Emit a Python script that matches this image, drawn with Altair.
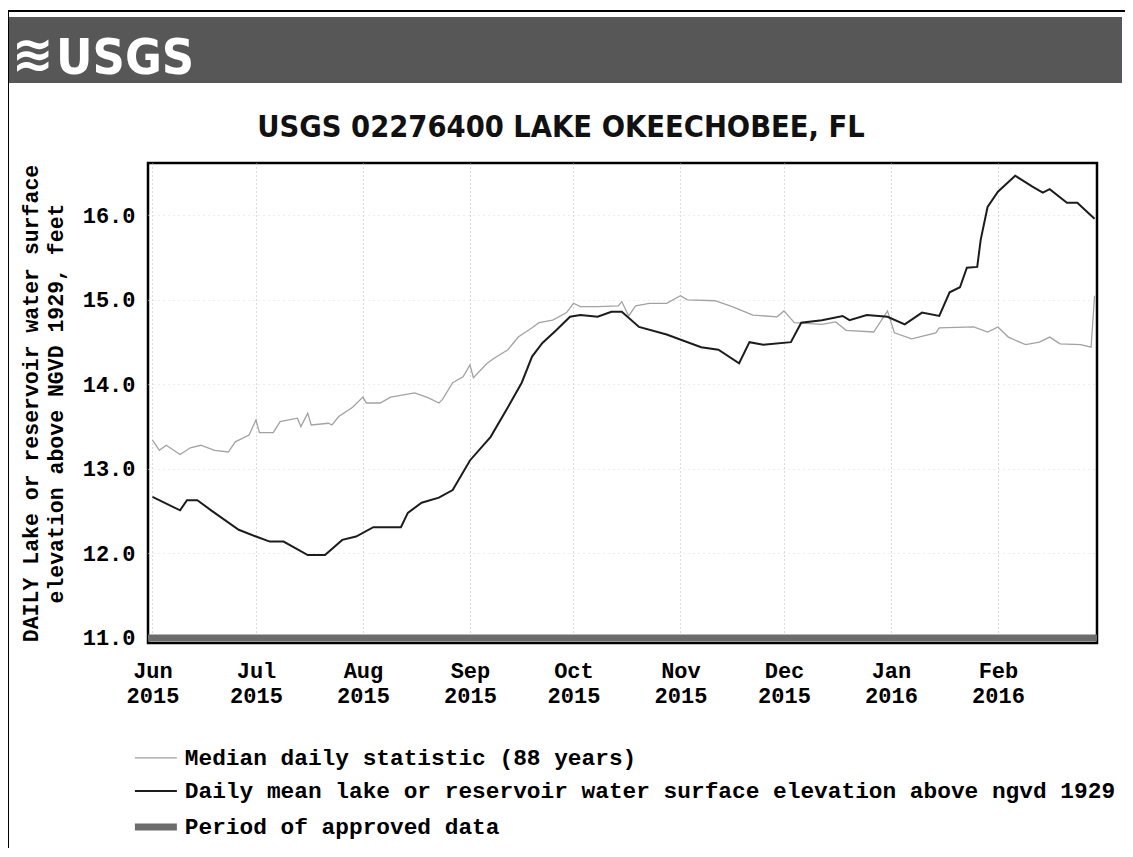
import altair as alt
import pandas as pd

MEDIAN = "Median daily statistic (88 years)"
DAILY = "Daily mean lake or reservoir water surface elevation above ngvd 1929"
APPROVED = "Period of approved data"

median_dates = [
    "2015-06-01", "2015-06-03", "2015-06-05", "2015-06-09", "2015-06-12", "2015-06-15",
    "2015-06-19", "2015-06-23", "2015-06-25", "2015-06-29", "2015-07-01", "2015-07-02",
    "2015-07-06", "2015-07-08", "2015-07-13", "2015-07-14", "2015-07-16", "2015-07-17",
    "2015-07-22", "2015-07-23", "2015-07-25", "2015-07-29", "2015-08-01", "2015-08-02",
    "2015-08-06", "2015-08-09", "2015-08-16", "2015-08-20", "2015-08-23", "2015-08-24",
    "2015-08-27", "2015-08-30", "2015-09-01", "2015-09-02", "2015-09-06", "2015-09-08",
    "2015-09-12", "2015-09-15", "2015-09-19", "2015-09-21", "2015-09-25", "2015-09-29",
    "2015-10-01", "2015-10-03", "2015-10-08", "2015-10-14", "2015-10-15", "2015-10-17",
    "2015-10-19", "2015-10-23", "2015-10-28", "2015-11-01", "2015-11-03", "2015-11-11",
    "2015-11-16", "2015-11-22", "2015-11-29", "2015-12-01", "2015-12-04", "2015-12-12",
    "2015-12-16", "2015-12-19", "2015-12-27", "2015-12-31", "2016-01-02", "2016-01-07",
    "2016-01-14", "2016-01-15", "2016-01-25", "2016-01-29", "2016-02-01", "2016-02-04",
    "2016-02-09", "2016-02-13", "2016-02-16", "2016-02-19", "2016-02-25", "2016-02-28",
    "2016-02-29",
]
median_values = [
    13.34, 13.22, 13.28, 13.17, 13.25, 13.28,
    13.22, 13.20, 13.32, 13.40, 13.58, 13.43,
    13.43, 13.56, 13.60, 13.50, 13.66, 13.52,
    13.54, 13.52, 13.62, 13.73, 13.85, 13.78,
    13.78, 13.85, 13.90, 13.84, 13.78, 13.82,
    14.02, 14.09, 14.23, 14.08, 14.25, 14.31,
    14.41, 14.56, 14.67, 14.73, 14.76, 14.85,
    14.96, 14.92, 14.92, 14.93, 14.98, 14.81,
    14.93, 14.96, 14.96, 15.05, 15.00, 14.99,
    14.92, 14.82, 14.80, 14.87, 14.73, 14.71,
    14.74, 14.64, 14.62, 14.87, 14.61, 14.54,
    14.61, 14.67, 14.68, 14.62, 14.68, 14.56,
    14.47, 14.50, 14.56, 14.48, 14.47, 14.44,
    15.05,
]

mean_dates = [
    "2015-06-01", "2015-06-09", "2015-06-11", "2015-06-14", "2015-06-18", "2015-06-26",
    "2015-07-01", "2015-07-05", "2015-07-09", "2015-07-16", "2015-07-21", "2015-07-26",
    "2015-07-30", "2015-08-04", "2015-08-12", "2015-08-14", "2015-08-18", "2015-08-23",
    "2015-08-27", "2015-09-01", "2015-09-07", "2015-09-12", "2015-09-16", "2015-09-19",
    "2015-09-22", "2015-09-26", "2015-09-30", "2015-10-03", "2015-10-08", "2015-10-12",
    "2015-10-15", "2015-10-20", "2015-10-28", "2015-11-07", "2015-11-12", "2015-11-18",
    "2015-11-21", "2015-11-25", "2015-12-03", "2015-12-06", "2015-12-12", "2015-12-18",
    "2015-12-20", "2015-12-25", "2015-12-31", "2016-01-05", "2016-01-10", "2016-01-15",
    "2016-01-18", "2016-01-21", "2016-01-23", "2016-01-26", "2016-01-27", "2016-01-29",
    "2016-02-01", "2016-02-06", "2016-02-11", "2016-02-14", "2016-02-16", "2016-02-21",
    "2016-02-24", "2016-02-29",
]
mean_values = [
    12.67, 12.51, 12.63, 12.63, 12.51, 12.28,
    12.20, 12.14, 12.14, 11.98, 11.98, 12.16,
    12.20, 12.31, 12.31, 12.48, 12.60, 12.66,
    12.75, 13.10, 13.38, 13.73, 14.02, 14.33,
    14.49, 14.64, 14.80, 14.82, 14.80, 14.86,
    14.86, 14.68, 14.59, 14.44, 14.41, 14.25,
    14.50, 14.47, 14.50, 14.73, 14.76, 14.81,
    14.76, 14.82, 14.80, 14.71, 14.85, 14.81,
    15.09, 15.15, 15.38, 15.39, 15.71, 16.10,
    16.28, 16.47, 16.34, 16.27, 16.31, 16.15,
    16.15, 15.96,
]

approved_dates = ["2015-05-30T17:00:00Z", "2016-02-29T17:00:00Z"]
approved_values = [11.0, 11.0]

month_ticks = ["2015-06", "2015-07", "2015-08", "2015-09", "2015-10",
               "2015-11", "2015-12", "2016-01", "2016-02"]
y_ticks = [11, 12, 13, 14, 15, 16]

SERIES = [MEDIAN, DAILY, APPROVED]
COLORS = ["#a2a2a2", "#1c1c1c", "#6c6c6c"]

rows = []
for d, v in zip(median_dates, median_values):
    rows.append({"date": d, "value": v, "series": MEDIAN})
for d, v in zip(mean_dates, mean_values):
    rows.append({"date": d, "value": v, "series": DAILY})
for d, v in zip(approved_dates, approved_values):
    rows.append({"date": d, "value": v, "series": APPROVED})
df = pd.DataFrame(rows)

MONO = "Liberation Mono"
NARROW = "Liberation Sans Narrow, DejaVu Sans Condensed, sans-serif"

x_domain = [alt.DateTime(year=2015, month=5, date=30, hours=17, utc=True),
            alt.DateTime(year=2016, month=2, date=29, hours=17, utc=True)]
x_values = [alt.DateTime(year=int(m[:4]), month=int(m[5:]), date=1, utc=True) for m in month_ticks]

SW_EXPR = ("datum.value === '" + APPROVED + "' ? 7 : (datum.value === '" + DAILY + "' ? 2 : 1.3)")

lines = alt.Chart(df).mark_line(clip=True).encode(
    x=alt.X("date:T",
            scale=alt.Scale(type="utc", domain=x_domain),
            axis=alt.Axis(values=x_values,
                          labelExpr="[utcFormat(datum.value, '%b'), utcFormat(datum.value, '%Y')]",
                          labelFont=MONO, labelFontSize=22, labelFontWeight="bold",
                          labelColor="black", labelPadding=17, labelLineHeight=25,
                          labelAlign="center", labelBaseline="top", labelFlush=False,
                          labelOverlap=False, ticks=False, tickSize=0, domain=False,
                          grid=True, gridColor="#b5b5b5", gridDash=[1, 3], gridWidth=1,
                          title=None)),
    y=alt.Y("value:Q",
            scale=alt.Scale(domain=[10.94, 16.62], nice=False, zero=False),
            axis=alt.Axis(values=y_ticks, format=".1f",
                          labelFont=MONO, labelFontSize=22, labelFontWeight="bold",
                          labelColor="black", labelPadding=13, ticks=False, tickSize=0,
                          domain=False, grid=True, gridColor="#d8d8d8", gridDash=[1, 4],
                          title=["DAILY Lake or reservoir water surface",
                                 "elevation above NGVD 1929, feet"],
                          titleFont=MONO, titleFontSize=21.5, titleFontWeight="bold",
                          titleColor="black", titlePadding=15, titleLineHeight=25)),
    color=alt.Color("series:N",
                    scale=alt.Scale(domain=SERIES, range=COLORS),
                    legend=alt.Legend(orient="none", legendX=-3.5, legendY=583.5,
                                      direction="vertical", title=None,
                                      labelFont=MONO, labelFontSize=22.8,
                                      labelFontWeight="bold", labelColor="black",
                                      labelLimit=2000, labelOffset=17.5,
                                      symbolType="M-2.1,0H2.1", symbolSize=400,
                                      symbolStrokeWidth={"expr": SW_EXPR},
                                      rowPadding=9, padding=0, offset=0)),
    strokeWidth=alt.when(alt.datum.series == APPROVED).then(alt.value(7))
                   .when(alt.datum.series == DAILY).then(alt.value(2))
                   .otherwise(alt.value(1.3)),
)

one = pd.DataFrame({"k": [0]})

frame = alt.Chart(one).mark_rect(fillOpacity=0, stroke="black", strokeWidth=2).encode(
    x=alt.value(-140), x2=alt.value(1100), y=alt.value(-152), y2=alt.value(900))

banner = alt.Chart(one).mark_rect(color="#575757").encode(
    x=alt.value(-139), x2=alt.value(974), y=alt.value(-146), y2=alt.value(-80))

wave = alt.Chart(one).mark_text(text="\u224b", font="DejaVu Sans", fontSize=50,
                                fontWeight="bold", color="white", align="left",
                                baseline="alphabetic").encode(
    x=alt.value(-136), y=alt.value(-92))

logo = alt.Chart(one).mark_text(text="USGS", font=NARROW, fontSize=50, fontWeight="bold",
                                color="white", align="left", baseline="alphabetic").encode(
    x=alt.value(-92), y=alt.value(-89))

title = alt.Chart(one).mark_text(text="USGS 02276400 LAKE OKEECHOBEE, FL", font=NARROW,
                                 fontSize=30.5, fontWeight="bold", color="#111111",
                                 align="center", baseline="alphabetic").encode(
    x=alt.value(413), y=alt.value(-26))

chart = alt.layer(frame, banner, wave, logo, title, lines).properties(
    width=949, height=480,
    padding={"left": 140, "top": 155, "right": 28, "bottom": 205},
    autosize=alt.AutoSizeParams(type="none"),
    background="white",
).configure_view(stroke="black", strokeWidth=2.5)

chart.save("out.html", embed_options={"renderer": "svg", "actions": False})
